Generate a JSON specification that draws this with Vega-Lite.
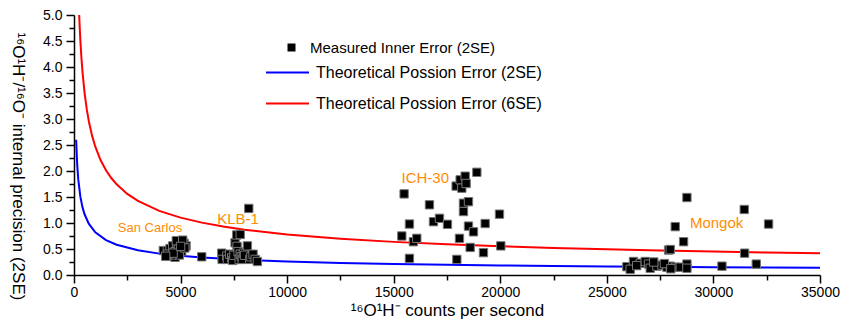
{
  "$schema": "https://vega.github.io/schema/vega-lite/v6.json",
  "width": 746,
  "height": 260,
  "autosize": "none",
  "padding": {"left": 74, "top": 15, "right": 34, "bottom": 47},
  "config": {
    "font": "Liberation Sans",
    "view": {"stroke": null},
    "axis": {"grid": false, "domainColor": "black", "tickColor": "black", "labelColor": "black", "titleColor": "black", "domainWidth": 1.5, "tickWidth": 1.5, "titleFontWeight": "normal"}
  },
  "resolve": {"axis": {"x": "independent", "y": "independent"}},
  "datasets": {
    "points": [
      {"cps": 4192, "err": 0.47}, {"cps": 4380, "err": 0.47}, {"cps": 4506, "err": 0.51}, {"cps": 4632, "err": 0.56},
      {"cps": 4820, "err": 0.61}, {"cps": 4975, "err": 0.64}, {"cps": 5163, "err": 0.61}, {"cps": 5257, "err": 0.56},
      {"cps": 4740, "err": 0.45}, {"cps": 4897, "err": 0.51}, {"cps": 5053, "err": 0.45}, {"cps": 4506, "err": 0.365},
      {"cps": 4740, "err": 0.34}, {"cps": 4944, "err": 0.385}, {"cps": 4585, "err": 0.385}, {"cps": 4800, "err": 0.66},
      {"cps": 5100, "err": 0.67}, {"cps": 5200, "err": 0.52}, {"cps": 4400, "err": 0.40}, {"cps": 4650, "err": 0.42},
      {"cps": 5000, "err": 0.55}, {"cps": 4300, "err": 0.36}, {"cps": 5993, "err": 0.35},
      {"cps": 6932, "err": 0.42}, {"cps": 6950, "err": 0.30}, {"cps": 7167, "err": 0.365}, {"cps": 7200, "err": 0.30},
      {"cps": 7300, "err": 0.40}, {"cps": 7400, "err": 0.33}, {"cps": 7450, "err": 0.28}, {"cps": 7500, "err": 0.38},
      {"cps": 7557, "err": 0.62}, {"cps": 7635, "err": 0.77}, {"cps": 7650, "err": 0.55}, {"cps": 7700, "err": 0.45},
      {"cps": 7750, "err": 0.30}, {"cps": 7800, "err": 0.78}, {"cps": 7800, "err": 0.40}, {"cps": 7850, "err": 0.35},
      {"cps": 7900, "err": 0.30}, {"cps": 7950, "err": 0.42}, {"cps": 8000, "err": 0.38}, {"cps": 8135, "err": 0.56},
      {"cps": 8200, "err": 1.28}, {"cps": 8250, "err": 0.30}, {"cps": 8300, "err": 0.35}, {"cps": 8400, "err": 0.40},
      {"cps": 8500, "err": 0.30}, {"cps": 8604, "err": 0.26},
      {"cps": 15488, "err": 1.56}, {"cps": 15738, "err": 0.98}, {"cps": 15380, "err": 0.75}, {"cps": 15925, "err": 0.64},
      {"cps": 16083, "err": 0.705}, {"cps": 15738, "err": 0.32}, {"cps": 16677, "err": 1.35}, {"cps": 16865, "err": 1.025},
      {"cps": 17147, "err": 1.09}, {"cps": 17522, "err": 0.975}, {"cps": 17929, "err": 1.71}, {"cps": 18117, "err": 1.83},
      {"cps": 18352, "err": 1.90}, {"cps": 18195, "err": 1.67}, {"cps": 18398, "err": 1.76}, {"cps": 18273, "err": 1.38},
      {"cps": 18508, "err": 1.41}, {"cps": 18273, "err": 1.22}, {"cps": 18900, "err": 1.975}, {"cps": 18085, "err": 0.705},
      {"cps": 18508, "err": 0.94}, {"cps": 18743, "err": 0.83}, {"cps": 19290, "err": 0.99}, {"cps": 18586, "err": 0.53},
      {"cps": 19211, "err": 0.43}, {"cps": 17962, "err": 0.30}, {"cps": 19962, "err": 1.17}, {"cps": 20025, "err": 0.56},
      {"cps": 25940, "err": 0.16}, {"cps": 26250, "err": 0.26}, {"cps": 26095, "err": 0.11}, {"cps": 26565, "err": 0.225},
      {"cps": 26800, "err": 0.26}, {"cps": 26956, "err": 0.21}, {"cps": 27035, "err": 0.13}, {"cps": 27348, "err": 0.17},
      {"cps": 27583, "err": 0.19}, {"cps": 27818, "err": 0.15}, {"cps": 27974, "err": 0.17}, {"cps": 28208, "err": 0.15},
      {"cps": 28443, "err": 0.15}, {"cps": 28756, "err": 0.21}, {"cps": 28756, "err": 0.13}, {"cps": 27896, "err": 0.48},
      {"cps": 27974, "err": 0.49}, {"cps": 28208, "err": 0.93}, {"cps": 28600, "err": 0.64}, {"cps": 28756, "err": 1.49},
      {"cps": 30400, "err": 0.17}, {"cps": 31446, "err": 1.26}, {"cps": 31462, "err": 0.42}, {"cps": 32010, "err": 0.21},
      {"cps": 32587, "err": 0.98}, {"cps": 26400, "err": 0.18}, {"cps": 27200, "err": 0.25}, {"cps": 27700, "err": 0.22},
      {"cps": 28000, "err": 0.12}
    ],
    "curves": [
      {"cps": 100, "err": 2.60, "curve": "Theoretical Possion Error (2SE)"},
      {"cps": 150, "err": 2.123, "curve": "Theoretical Possion Error (2SE)"},
      {"cps": 200, "err": 1.838, "curve": "Theoretical Possion Error (2SE)"},
      {"cps": 300, "err": 1.501, "curve": "Theoretical Possion Error (2SE)"},
      {"cps": 400, "err": 1.30, "curve": "Theoretical Possion Error (2SE)"},
      {"cps": 500, "err": 1.163, "curve": "Theoretical Possion Error (2SE)"},
      {"cps": 700, "err": 0.983, "curve": "Theoretical Possion Error (2SE)"},
      {"cps": 1000, "err": 0.822, "curve": "Theoretical Possion Error (2SE)"},
      {"cps": 1500, "err": 0.671, "curve": "Theoretical Possion Error (2SE)"},
      {"cps": 2000, "err": 0.581, "curve": "Theoretical Possion Error (2SE)"},
      {"cps": 3000, "err": 0.475, "curve": "Theoretical Possion Error (2SE)"},
      {"cps": 4000, "err": 0.411, "curve": "Theoretical Possion Error (2SE)"},
      {"cps": 5000, "err": 0.368, "curve": "Theoretical Possion Error (2SE)"},
      {"cps": 6000, "err": 0.336, "curve": "Theoretical Possion Error (2SE)"},
      {"cps": 8000, "err": 0.291, "curve": "Theoretical Possion Error (2SE)"},
      {"cps": 10000, "err": 0.260, "curve": "Theoretical Possion Error (2SE)"},
      {"cps": 12500, "err": 0.233, "curve": "Theoretical Possion Error (2SE)"},
      {"cps": 15000, "err": 0.212, "curve": "Theoretical Possion Error (2SE)"},
      {"cps": 17500, "err": 0.197, "curve": "Theoretical Possion Error (2SE)"},
      {"cps": 20000, "err": 0.184, "curve": "Theoretical Possion Error (2SE)"},
      {"cps": 22500, "err": 0.173, "curve": "Theoretical Possion Error (2SE)"},
      {"cps": 25000, "err": 0.164, "curve": "Theoretical Possion Error (2SE)"},
      {"cps": 27500, "err": 0.157, "curve": "Theoretical Possion Error (2SE)"},
      {"cps": 30000, "err": 0.150, "curve": "Theoretical Possion Error (2SE)"},
      {"cps": 32500, "err": 0.144, "curve": "Theoretical Possion Error (2SE)"},
      {"cps": 35000, "err": 0.139, "curve": "Theoretical Possion Error (2SE)"},
      {"cps": 243, "err": 5.0, "curve": "Theoretical Possion Error (6SE)"},
      {"cps": 270, "err": 4.747, "curve": "Theoretical Possion Error (6SE)"},
      {"cps": 300, "err": 4.503, "curve": "Theoretical Possion Error (6SE)"},
      {"cps": 350, "err": 4.169, "curve": "Theoretical Possion Error (6SE)"},
      {"cps": 400, "err": 3.90, "curve": "Theoretical Possion Error (6SE)"},
      {"cps": 500, "err": 3.488, "curve": "Theoretical Possion Error (6SE)"},
      {"cps": 600, "err": 3.184, "curve": "Theoretical Possion Error (6SE)"},
      {"cps": 700, "err": 2.948, "curve": "Theoretical Possion Error (6SE)"},
      {"cps": 850, "err": 2.675, "curve": "Theoretical Possion Error (6SE)"},
      {"cps": 1000, "err": 2.467, "curve": "Theoretical Possion Error (6SE)"},
      {"cps": 1250, "err": 2.206, "curve": "Theoretical Possion Error (6SE)"},
      {"cps": 1500, "err": 2.014, "curve": "Theoretical Possion Error (6SE)"},
      {"cps": 1750, "err": 1.865, "curve": "Theoretical Possion Error (6SE)"},
      {"cps": 2000, "err": 1.744, "curve": "Theoretical Possion Error (6SE)"},
      {"cps": 2500, "err": 1.560, "curve": "Theoretical Possion Error (6SE)"},
      {"cps": 3000, "err": 1.424, "curve": "Theoretical Possion Error (6SE)"},
      {"cps": 4000, "err": 1.233, "curve": "Theoretical Possion Error (6SE)"},
      {"cps": 5000, "err": 1.103, "curve": "Theoretical Possion Error (6SE)"},
      {"cps": 6000, "err": 1.007, "curve": "Theoretical Possion Error (6SE)"},
      {"cps": 7000, "err": 0.932, "curve": "Theoretical Possion Error (6SE)"},
      {"cps": 8000, "err": 0.872, "curve": "Theoretical Possion Error (6SE)"},
      {"cps": 10000, "err": 0.780, "curve": "Theoretical Possion Error (6SE)"},
      {"cps": 12500, "err": 0.698, "curve": "Theoretical Possion Error (6SE)"},
      {"cps": 15000, "err": 0.637, "curve": "Theoretical Possion Error (6SE)"},
      {"cps": 17500, "err": 0.590, "curve": "Theoretical Possion Error (6SE)"},
      {"cps": 20000, "err": 0.552, "curve": "Theoretical Possion Error (6SE)"},
      {"cps": 22500, "err": 0.520, "curve": "Theoretical Possion Error (6SE)"},
      {"cps": 25000, "err": 0.493, "curve": "Theoretical Possion Error (6SE)"},
      {"cps": 27500, "err": 0.470, "curve": "Theoretical Possion Error (6SE)"},
      {"cps": 30000, "err": 0.450, "curve": "Theoretical Possion Error (6SE)"},
      {"cps": 32500, "err": 0.433, "curve": "Theoretical Possion Error (6SE)"},
      {"cps": 35000, "err": 0.417, "curve": "Theoretical Possion Error (6SE)"}
    ],
    "labels": [
      {"cps": 3567, "err": 0.90, "text": "San Carlos", "size": 13},
      {"cps": 7697, "err": 1.08, "text": "KLB-1", "size": 15},
      {"cps": 16480, "err": 1.86, "text": "ICH-30", "size": 15},
      {"cps": 30150, "err": 1.00, "text": "Mongok", "size": 15}
    ]
  },
  "layer": [
    {
      "data": {"name": "curves"},
      "mark": {"type": "line", "strokeWidth": 2, "clip": true},
      "encoding": {
        "x": {"field": "cps", "type": "quantitative", "scale": {"domain": [0, 35000], "nice": false},
          "axis": {
            "orient": "bottom",
            "values": [0, 5000, 10000, 15000, 20000, 25000, 30000, 35000],
            "format": "d", "tickSize": 8,
            "labelFontSize": 14, "labelPadding": 2, "labelFlush": false, "labelOverlap": false,
            "title": "¹⁶O¹H⁻ counts per second", "titleFontSize": 17, "titleY": 27, "titleBaseline": "top"
          }
        },
        "y": {"field": "err", "type": "quantitative", "scale": {"domain": [0, 5], "nice": false},
          "axis": {
            "orient": "left",
            "values": [0, 0.5, 1, 1.5, 2, 2.5, 3, 3.5, 4, 4.5, 5],
            "format": ".1f", "tickSize": 8,
            "labelFontSize": 14, "labelPadding": 4, "labelFlush": false, "labelOverlap": false,
            "title": "¹⁶O¹H⁻/¹⁶O⁻ internal precision (2SE)", "titleFontSize": 17,
            "titleX": -57, "titleY": 151, "titleAngle": 90, "titleAlign": "center", "titleBaseline": "middle"
          }
        },
        "stroke": {"field": "curve", "type": "nominal",
          "scale": {"domain": ["Theoretical Possion Error (2SE)", "Theoretical Possion Error (6SE)"], "range": ["#0000ff", "#ff0000"]},
          "legend": {"orient": "none", "legendX": 191, "legendY": 35, "title": null, "symbolType": "stroke", "symbolSize": 1849,
            "symbolStrokeWidth": 2, "labelFontSize": 16, "labelColor": "black", "labelOffset": 6, "rowPadding": 0, "padding": 0, "labelLimit": 0}
        },
        "detail": {"field": "curve"}
      }
    },
    {
      "data": {"name": "points"},
      "transform": [{"calculate": "'Measured Inner Error (2SE)'", "as": "kind"}],
      "mark": {"type": "point", "shape": "square", "filled": true, "size": 70, "stroke": "#777777", "strokeWidth": 1, "opacity": 1, "strokeOpacity": 1},
      "encoding": {
        "x": {"field": "cps", "type": "quantitative", "axis": null},
        "y": {"field": "err", "type": "quantitative", "axis": null},
        "fill": {"field": "kind", "type": "nominal",
          "scale": {"domain": ["Measured Inner Error (2SE)"], "range": ["black"]},
          "legend": {"orient": "none", "legendX": 210, "legendY": 25, "title": null, "symbolType": "square", "symbolSize": 64,
            "symbolStrokeWidth": 0, "labelFontSize": 15, "labelColor": "black", "labelOffset": 11, "padding": 0, "labelLimit": 0}
        }
      }
    },
    {
      "data": {"name": "labels"},
      "mark": {"type": "text", "color": "#ff8c00", "align": "center", "baseline": "middle", "font": "Liberation Sans"},
      "encoding": {
        "x": {"field": "cps", "type": "quantitative",
          "axis": {"orient": "bottom", "values": [2500, 7500, 12500, 17500, 22500, 27500, 32500], "tickSize": 5, "labels": false, "domain": false, "title": null}},
        "y": {"field": "err", "type": "quantitative",
          "axis": {"orient": "left", "values": [0.25, 0.75, 1.25, 1.75, 2.25, 2.75, 3.25, 3.75, 4.25, 4.75], "tickSize": 5, "labels": false, "domain": false, "title": null}},
        "text": {"field": "text"},
        "size": {"field": "size", "type": "quantitative", "scale": null}
      }
    }
  ]
}
